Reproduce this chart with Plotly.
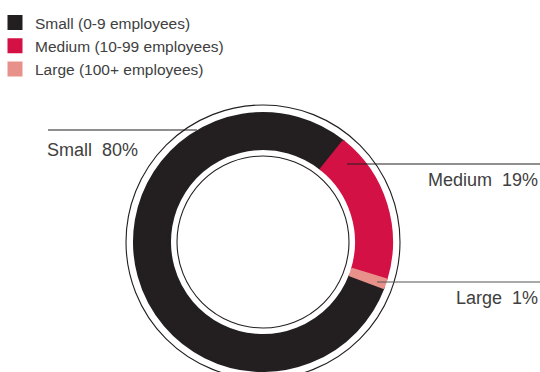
import plotly.graph_objects as go

# ---- data ----
categories = ["Small", "Medium", "Large"]
legend_names = ["Small (0-9 employees)", "Medium (10-99 employees)", "Large (100+ employees)"]
shares = [80, 19, 1]
colors = ["#231F20", "#D31145", "#E8918B"]

W, H = 540, 372
cx, cy = 263, 242          # pie centre in pixels (from top-left)
r_out, r_in = 130, 92      # visible ring radii
border = 3                 # same-colour border (enlarges legend squares)
r_pie = r_out - border / 2
hole = (r_in + border / 2) / r_pie

def px(x):
    return x / W

def py(y):
    return 1 - y / H

fig = go.Figure()
fig.add_trace(go.Pie(
    labels=legend_names,
    values=shares,
    marker=dict(colors=colors, line=dict(color=colors, width=border)),
    hole=hole,
    sort=False,
    direction="clockwise",
    rotation=360 * (shares[1] + shares[2]) / sum(shares) + 38.7,
    textinfo="none",
    hoverinfo="label+percent",
    domain=dict(x=[px(cx - r_pie), px(cx + r_pie)], y=[py(cy + r_pie), py(cy - r_pie)]),
))

shapes = []
# thin outline circles
for r in (137, 86):
    shapes.append(dict(type="circle", xref="paper", yref="paper",
                       x0=px(cx - r), x1=px(cx + r), y0=py(cy + r), y1=py(cy - r),
                       line=dict(color="#231F20", width=1.1), layer="above"))
# leader lines
leaders = [((48, 130), (197, 130), "#231F20"),
           ((347, 164), (540, 164), "#231F20"),
           ((377, 282), (540, 282), "#555555")]
for (x0, y0), (x1, y1), c in leaders:
    shapes.append(dict(type="line", xref="paper", yref="paper",
                       x0=px(x0), x1=px(x1), y0=py(y0), y1=py(y1),
                       line=dict(color=c, width=1.2), layer="above"))

label_pos = [(45, 149.5, "left"), (540, 180, "right"), (540, 298, "right")]
annotations = []
for cat, val, (x, y, anc) in zip(categories, shares, label_pos):
    annotations.append(dict(text=f"{cat}\u00a0\u00a0{val}%", xref="paper", yref="paper",
                            x=px(x), y=py(y), xanchor=anc, yanchor="middle",
                            showarrow=False,
                            font=dict(family="Liberation Sans, Arial, sans-serif", size=18, color="#404040")))

fig.update_layout(
    width=W, height=H,
    margin=dict(l=0, r=0, t=0, b=0, autoexpand=False),
    paper_bgcolor="white", plot_bgcolor="white",
    shapes=shapes, annotations=annotations,
    showlegend=True,
    legend=dict(x=px(-5), y=py(6), xanchor="left", yanchor="top",
                font=dict(family="Liberation Sans, Arial, sans-serif", size=15.5, color="#404040"),
                bgcolor="rgba(0,0,0,0)", traceorder="normal"),
)

fig.write_html("out.html")
